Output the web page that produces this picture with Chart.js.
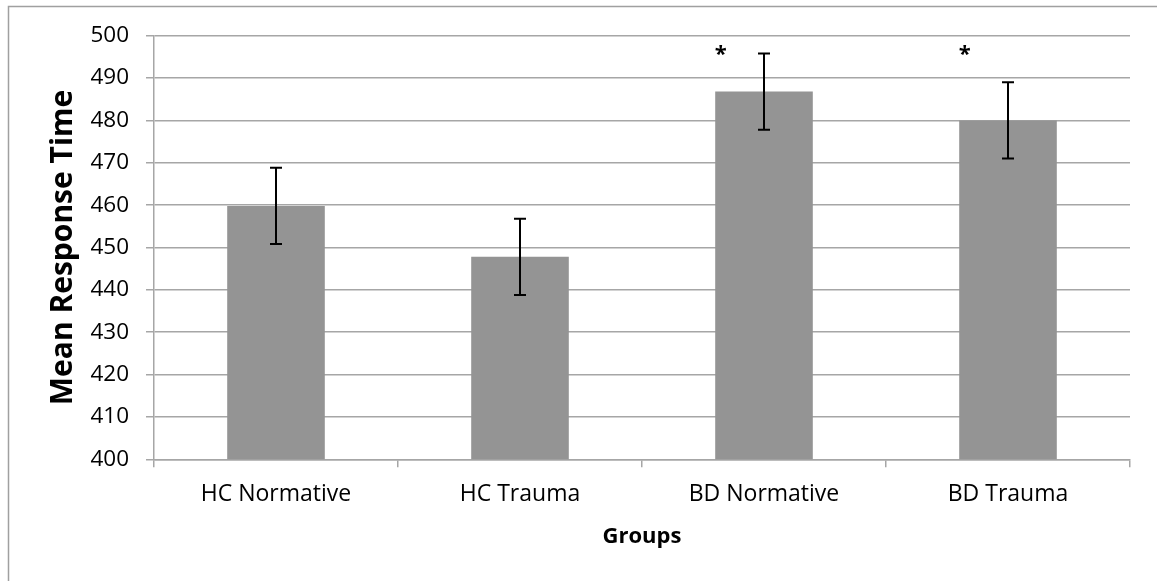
<!DOCTYPE html>
<html>
<head>
<meta charset="utf-8">
<script src="https://cdn.jsdelivr.net/npm/chart.js@4.4.1/dist/chart.umd.min.js"></script>
<style>
  html, body { margin: 0; padding: 0; background: #ffffff; }
  #wrap { position: relative; width: 1157px; height: 581px; }
</style>
</head>
<body>
<div id="wrap"><canvas id="c" width="1157" height="581"></canvas></div>
<script>
// ---- data ----
const categories = ["HC Normative", "HC Trauma", "BD Normative", "BD Trauma"];
const meanRT = [459.8, 447.8, 486.8, 480.0];
const errorRT = [9.0, 9.0, 9.0, 9.0];
const significant = [false, false, true, true];
const yTicks = [400, 410, 420, 430, 440, 450, 460, 470, 480, 490, 500];
const yTitle = "Mean Response Time";
const xTitle = "Groups";
const markerLevel = 496; // value at which the "*" markers sit

const FONT = "'Open Sans', 'DejaVu Sans', sans-serif";
const GRID = "#a6a6a6";

const framePlugin = {
  id: 'frame',
  beforeDraw(chart) {
    const ctx = chart.ctx;
    ctx.save();
    ctx.fillStyle = '#ffffff';
    ctx.fillRect(0, 0, chart.width, chart.height);
    ctx.strokeStyle = '#a0a0a0';
    ctx.lineWidth = 1.5;
    ctx.beginPath();
    ctx.moveTo(8.5, chart.height + 5);
    ctx.lineTo(8.5, 6.5);
    ctx.lineTo(chart.width + 5, 6.5);
    ctx.stroke();
    ctx.restore();
  }
};

const errorBarPlugin = {
  id: 'errorBars',
  afterDatasetsDraw(chart) {
    const ctx = chart.ctx;
    const meta = chart.getDatasetMeta(0);
    const y = chart.scales.y;
    ctx.save();
    ctx.strokeStyle = '#000000';
    ctx.lineWidth = 2;
    meta.data.forEach((bar, i) => {
      const x = Math.round(bar.x);
      const yTop = y.getPixelForValue(meanRT[i] + errorRT[i]);
      const yBot = y.getPixelForValue(meanRT[i] - errorRT[i]);
      ctx.beginPath();
      ctx.moveTo(x, yTop); ctx.lineTo(x, yBot);
      ctx.moveTo(x - 6, yTop); ctx.lineTo(x + 6, yTop);
      ctx.moveTo(x - 6, yBot); ctx.lineTo(x + 6, yBot);
      ctx.stroke();
      if (significant[i]) {
        ctx.fillStyle = '#000000';
        ctx.font = "bold 22px " + FONT;
        ctx.textAlign = 'center';
        ctx.textBaseline = 'alphabetic';
        const sx = bar.x - bar.width / 2 + 5.5;
        const sy = y.getPixelForValue(markerLevel) + 8.5;
        ctx.fillText('*', sx, sy);
      }
    });
    ctx.restore();
  }
};

new Chart(document.getElementById('c'), {
  type: 'bar',
  data: {
    labels: categories,
    datasets: [{
      data: meanRT,
      backgroundColor: '#949494',
      borderWidth: 0,
      categoryPercentage: 1.0,
      barPercentage: 0.4
    }]
  },
  options: {
    responsive: false,
    animation: false,
    devicePixelRatio: 1,
    layout: { padding: { top: 35.7, right: 27, bottom: 31, left: 0 } },
    plugins: { legend: { display: false }, tooltip: { enabled: false } },
    scales: {
      x: {
        grid: { display: true, drawOnChartArea: false, drawTicks: true, tickLength: 8, offset: true, color: GRID, lineWidth: 1.5 },
        border: { display: true, color: GRID, width: 1.5 },
        ticks: { color: '#000000', font: { family: FONT, size: 23 }, padding: 13.5, maxRotation: 0 },
        title: { display: true, text: xTitle, color: '#000000', font: { family: FONT, size: 22, weight: 'bold' }, padding: { top: 0, bottom: 0 } },
        afterFit(scale) { scale.height = 581 - 31 - 459.3; }
      },
      y: {
        min: 400, max: 500,
        afterBuildTicks(scale) { scale.ticks = yTicks.map(v => ({ value: v })); },
        grid: { color: GRID, lineWidth: 1.5, drawTicks: true, tickLength: 8 },
        border: { display: true, color: GRID, width: 1.5 },
        ticks: { color: '#000000', font: { family: FONT, size: 22.5 }, padding: 17 },
        title: { display: true, text: yTitle, color: '#000000', font: { family: FONT, size: 30, weight: 'bold' }, padding: { top: 45.5, bottom: 0 } },
        afterFit(scale) { scale.width = 154; }
      }
    }
  },
  plugins: [framePlugin, errorBarPlugin]
});
</script>
</body>
</html>
